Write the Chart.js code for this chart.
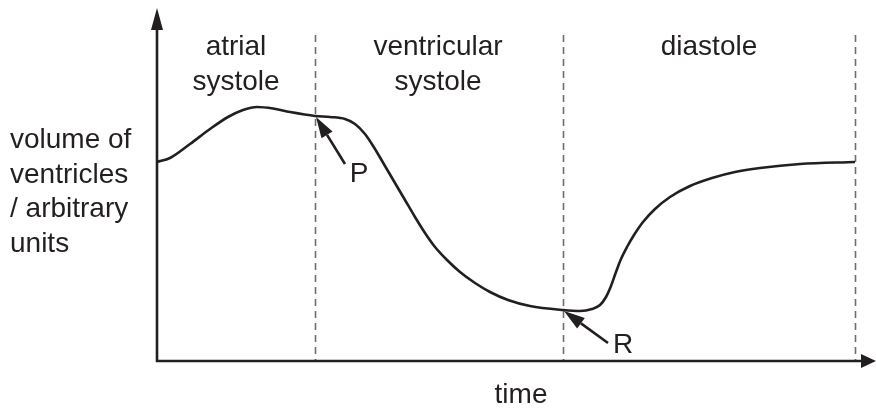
<!DOCTYPE html>
<html>
<head>
<meta charset="utf-8">
<script src="https://cdn.jsdelivr.net/npm/chart.js@4.4.1/dist/chart.umd.min.js"></script>
<style>
html,body{margin:0;padding:0;background:#fff;}
#wrap{width:876px;height:408px;position:relative;}
</style>
</head>
<body>
<div id="wrap"><canvas id="c" width="876" height="408"></canvas></div>
<script>
// ---- data (time, volume in arbitrary units) ----
const timeValues   = [0,13,33,53,71,86,100,116,133,158,173,188,198,208,218,228,238,248,258,268,278,290,303,318,333,351,373,406,423,435,443,449,454,459,464,470,477,486,498,513,533,555,578,603,643,698];
const volumeValues = [199,203,217,232,244,251,254,252.5,249,245,244,242,237,227,212,195,178,161,144,128,114,101,89,78,69,61,55,51,50,52,56,64,75,89,102,114,126,139,152,164,175,183,189,193,197,199];
const phaseBoundaries = [158,406,698];
const phaseLabels = [["atrial","systole"],["ventricular","systole"],["diastole"]];
const phaseCentres = [79,281,552];
const pointLabels = ["P","R"];
const pointTimes = [158,406];
const yAxisTitle = ["volume of","ventricles","/ arbitrary","units"];
const xAxisTitle = "time";
const xAxisTitleAt = 364;
const X_MAX = 719, Y_MAX = 353, DASH_TOP = 326;

const INK = '#231f20';
const FONT = '28px "Liberation Sans", Arial, sans-serif';

function valueAt(t){ return volumeValues[timeValues.indexOf(t)]; }

const decor = {
  id:'decor',
  beforeDatasetsDraw(chart){
    const ctx = chart.ctx, xs = chart.scales.x, ys = chart.scales.y;
    ctx.save();
    ctx.strokeStyle = '#6d6e70';
    ctx.lineWidth = 1.6;
    ctx.setLineDash([7,5]);
    phaseBoundaries.forEach(t=>{
      const px = Math.round(xs.getPixelForValue(t))+0.5;
      ctx.beginPath();
      ctx.moveTo(px, ys.getPixelForValue(DASH_TOP));
      ctx.lineTo(px, ys.getPixelForValue(0));
      ctx.stroke();
    });
    ctx.restore();
  },
  afterDatasetsDraw(chart){
    const ctx = chart.ctx, xs = chart.scales.x, ys = chart.scales.y;
    ctx.save();
    const x0 = xs.getPixelForValue(0), y0 = ys.getPixelForValue(0);
    const xEnd = xs.getPixelForValue(X_MAX), yTop = ys.getPixelForValue(Y_MAX);
    ctx.strokeStyle = INK; ctx.fillStyle = INK; ctx.lineWidth = 2.6;
    // y axis with arrow
    ctx.beginPath(); ctx.moveTo(x0, y0+1); ctx.lineTo(x0, yTop+18); ctx.stroke();
    ctx.beginPath(); ctx.moveTo(x0, yTop); ctx.lineTo(x0-6, yTop+22); ctx.lineTo(x0+6, yTop+22); ctx.closePath(); ctx.fill();
    // x axis with arrow
    ctx.beginPath(); ctx.moveTo(x0-1, y0); ctx.lineTo(xEnd-12, y0); ctx.stroke();
    ctx.beginPath(); ctx.moveTo(xEnd, y0); ctx.lineTo(xEnd-15, y0-7); ctx.lineTo(xEnd-15, y0+7); ctx.closePath(); ctx.fill();

    // pointer arrows + labels
    const offs = [[29,47],[44,32]];
    const lo = [[14,18],[15,10]];
    pointTimes.forEach((t,i)=>{
      const tx = xs.getPixelForValue(t)+1, ty = ys.getPixelForValue(valueAt(t))+1;
      const sx = tx+offs[i][0], sy = ty+offs[i][1];
      const ang = Math.atan2(sy-ty, sx-tx);
      const L = 21, W = 6.5;
      const bx = tx + L*Math.cos(ang), by = ty + L*Math.sin(ang);
      ctx.lineWidth = 2.6;
      ctx.beginPath(); ctx.moveTo(bx,by); ctx.lineTo(sx,sy); ctx.stroke();
      ctx.beginPath(); ctx.moveTo(tx,ty);
      ctx.lineTo(bx + W*Math.sin(ang), by - W*Math.cos(ang));
      ctx.lineTo(bx - W*Math.sin(ang), by + W*Math.cos(ang));
      ctx.closePath(); ctx.fill();
      ctx.font = FONT; ctx.textAlign='center'; ctx.textBaseline='alphabetic';
      ctx.fillText(pointLabels[i], sx+lo[i][0], sy+lo[i][1]);
    });

    // text
    ctx.font = FONT; ctx.textAlign='center'; ctx.textBaseline='alphabetic';
    phaseLabels.forEach((lines,i)=>{
      const cx = xs.getPixelForValue(phaseCentres[i]);
      lines.forEach((s,j)=> ctx.fillText(s, cx, 55 + j*35));
    });
    ctx.fillText(xAxisTitle, xs.getPixelForValue(xAxisTitleAt), 403);
    ctx.textAlign='left';
    yAxisTitle.forEach((s,j)=> ctx.fillText(s, 10, 148 + j*34.7));
    ctx.restore();
  }
};

new Chart(document.getElementById('c'), {
  type:'scatter',
  data:{ datasets:[{
    data: timeValues.map((t,i)=>({x:t, y:volumeValues[i]})),
    showLine:true, borderColor:INK, borderWidth:2.6, pointRadius:0,
    cubicInterpolationMode:'monotone', fill:false
  }]},
  options:{
    responsive:false, animation:false,
    layout:{padding:{left:157,right:0,top:8,bottom:47}},
    plugins:{legend:{display:false}, tooltip:{enabled:false}},
    scales:{
      x:{type:'linear', min:0, max:X_MAX, display:false},
      y:{type:'linear', min:0, max:Y_MAX, display:false}
    }
  },
  plugins:[decor]
});
</script>
</body>
</html>
